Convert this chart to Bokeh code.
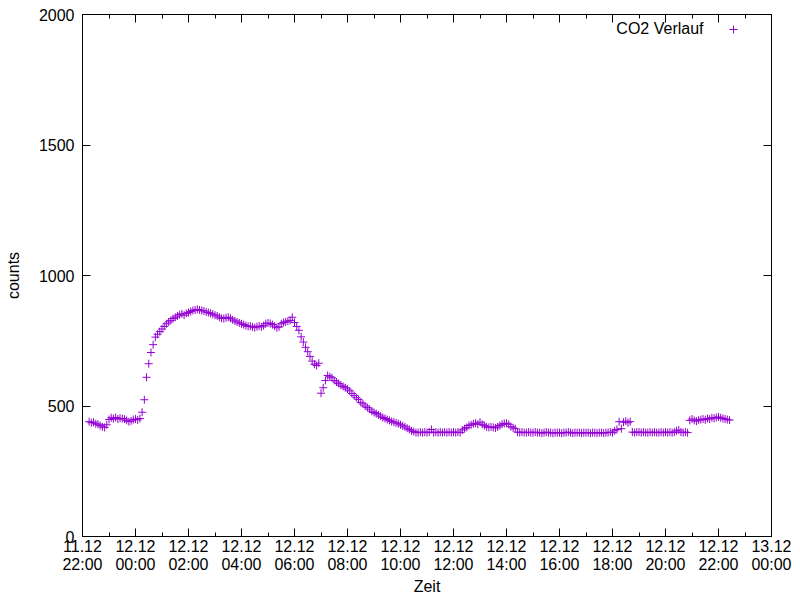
import pandas as pd
from bokeh.plotting import figure
from bokeh.models import (Range1d, FixedTicker, DatetimeTickFormatter, DatetimeAxis,
                          LinearAxis, Label, Legend, LegendItem, ColumnDataSource,
                          CustomJSTickFormatter)
from bokeh.core.properties import value
from bokeh.embed import file_html
from bokeh.resources import INLINE

series_label = "CO2 Verlauf"
x_axis_title = "Zeit"
y_axis_title = "counts"

# sensor log: one reading every 5 minutes, starting 11.12 22:15
start_time = "2023-12-11 22:15"
sample_step = "5min"

co2_counts = [
    # 11.12 22:15 .. 22:55
    440, 436, 438, 432, 430, 425, 420, 418, 428,
    # 23:00
    448, 455, 452, 456, 450, 453, 452, 450, 445, 440, 443, 448,
    # 12.12 00:00
    450, 447, 452, 476, 524, 610, 662, 705, 735, 764, 775, 785,
    # 01:00
    795, 805, 815, 822, 828, 835, 840, 845, 850, 853, 848, 855,
    # 02:00
    858, 862, 866, 868, 870, 868, 866, 864, 860, 858, 855, 852,
    # 03:00
    848, 845, 840, 836, 835, 838, 840, 836, 830, 826, 822, 818,
    # 04:00
    815, 812, 808, 805, 806, 803, 800, 804, 806, 803, 808, 815,
    # 05:00
    818, 816, 812, 806, 800, 803, 815, 820, 822, 825, 828, 840,
    # 06:00
    820, 805, 790, 765, 745, 725, 708, 690, 672, 660, 655, 664,
    # 07:00
    549, 570, 598, 617, 612, 608, 598, 592, 586, 580, 575, 570,
    # 08:00
    565, 558, 548, 540, 532, 525, 514, 508, 500, 494, 488, 480,
    # 09:00
    475, 471, 466, 461, 456, 452, 448, 445, 441, 438, 435, 432,
    # 10:00
    428, 424, 420, 415, 410, 405, 402, 398, 398, 400, 398, 400,
    # 11:00
    398, 400, 410, 398, 400, 398, 400, 398, 400, 398, 400, 398,
    # 12:00
    400, 398, 400, 398, 408, 413, 418, 425, 428, 432, 434, 430,
    # 13:00
    438, 430, 425, 420, 418, 420, 418, 416, 420, 425, 430, 433,
    # 14:00
    434, 430, 421, 416, 413, 400, 398, 400, 398, 398, 400, 398,
    # 15:00
    398, 400, 398, 398, 396, 398, 400, 398, 398, 396, 398, 398,
    # 16:00
    398, 396, 398, 398, 400, 398, 396, 398, 398, 398, 396, 398,
    # 17:00
    398, 398, 396, 398, 398, 396, 398, 398, 396, 398, 398, 400,
    # 18:00
    398, 405, 410, 440, 413, 438, 442, 436, 440, 400, 398, 400,
    # 19:00
    400, 398, 400, 398, 398, 400, 398, 400, 398, 398, 400, 398,
    # 20:00
    400, 398, 400, 398, 400, 405, 408, 400, 398, 400, 398, 445,
    # 21:00
    450, 445, 442, 446, 448, 450, 447, 452, 450, 455, 453, 456,
    # 22:00 .. 22:25
    458, 455, 452, 450, 448, 446,
]

x_start = "2023-12-11 22:00"
x_end = "2023-12-13 00:00"
major_step = "2h"
minor_step = "1h"
y_ticks = [0, 500, 1000, 1500, 2000]
y_min, y_max = 0, 2000

FONT = "Liberation Sans"
FS = "16px"
POINT_COLOR = "#9400D3"

times = pd.date_range(start_time, periods=len(co2_counts), freq=sample_step)
source = ColumnDataSource(data=dict(t=times, v=co2_counts))

def ms(idx):
    return [int(v) // 10**6 for v in idx.asi8]

major_ms = ms(pd.date_range(x_start, x_end, freq=major_step))
minor_ms = ms(pd.date_range(x_start, x_end, freq=minor_step))
x_ticker = FixedTicker(ticks=major_ms, minor_ticks=minor_ms)
y_ticker = FixedTicker(ticks=y_ticks, minor_ticks=[])

fmt_str = "%d.%m\n%H:%M"
x_fmt = DatetimeTickFormatter(microseconds=fmt_str, milliseconds=fmt_str, seconds=fmt_str,
                              minsec=fmt_str, minutes=fmt_str, hourmin=fmt_str, hours=fmt_str,
                              days=fmt_str, months=fmt_str, years=fmt_str)
blank_fmt = CustomJSTickFormatter(code="return ''")

p = figure(width=800, height=600, x_axis_type="datetime",
           x_range=Range1d(pd.Timestamp(x_start), pd.Timestamp(x_end)),
           y_range=Range1d(y_min, y_max),
           output_backend="svg", toolbar_location=None,
           min_border_left=82, min_border_right=29, min_border_top=14, min_border_bottom=64)

p.background_fill_color = "white"
p.border_fill_color = "white"
p.outline_line_color = "black"
p.outline_line_width = 1
p.xgrid.visible = False
p.ygrid.visible = False

r = p.scatter(x="t", y="v", source=source, marker="cross", size=8,
              line_color=POINT_COLOR, line_width=1)

def style_axis(ax, labels=True):
    ax.axis_line_color = "black"
    ax.major_tick_line_color = "black"
    ax.minor_tick_line_color = "black"
    ax.major_tick_in = 8
    ax.major_tick_out = 0
    ax.minor_tick_in = 4
    ax.minor_tick_out = 0
    ax.major_label_text_font = FONT
    ax.major_label_text_color = "black"
    ax.major_label_text_font_size = FS
    ax.axis_label_text_font = FONT
    ax.axis_label_text_font_style = "normal"
    ax.axis_label_text_font_size = FS
    ax.axis_label_text_color = "black"
    if not labels:
        ax.formatter = blank_fmt
        ax.major_label_standoff = 0

xa = p.xaxis[0]
xa.ticker = x_ticker
xa.formatter = x_fmt
style_axis(xa)
xa.major_label_standoff = 1
xa.major_label_text_line_height = 1.1
xa.axis_label = x_axis_title
xa.axis_label_standoff = 2

ya = p.yaxis[0]
ya.ticker = y_ticker
style_axis(ya)
ya.major_label_standoff = 8
ya.axis_label = y_axis_title
ya.axis_label_standoff = 14

top = DatetimeAxis(ticker=x_ticker)
style_axis(top, labels=False)
p.add_layout(top, "above")

right = LinearAxis(ticker=y_ticker)
style_axis(right, labels=False)
p.add_layout(right, "right")

# key: text, then sample marker to its right (as in the original)
p.add_layout(Label(x=621, y=508, x_units="screen", y_units="screen", text=series_label,
                   text_align="right", text_baseline="middle", text_font=FONT,
                   text_font_size=FS, text_color="black"))
legend = Legend(items=[LegendItem(label=value(" "), renderers=[r])], location=(641, 497),
                padding=0, margin=0, spacing=0, glyph_width=20, glyph_height=20,
                label_width=0, label_height=20, label_standoff=0,
                label_text_font_size="1px", border_line_color=None,
                background_fill_alpha=0)
p.add_layout(legend)

open("out.html", "w").write(file_html(p, INLINE))
